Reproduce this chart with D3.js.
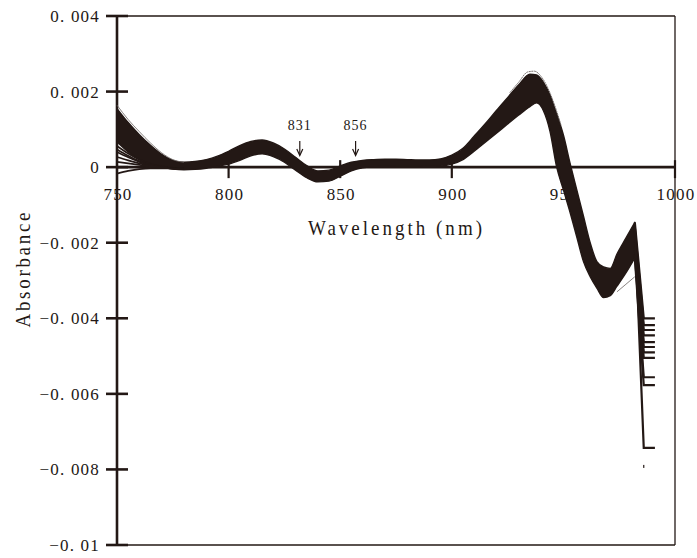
<!DOCTYPE html>
<html>
<head>
<meta charset="utf-8">
<script src="https://cdn.jsdelivr.net/npm/d3@7"></script>
<style>
  html, body { margin: 0; padding: 0; background: #fff; }
  svg { display: block; }
</style>
</head>
<body>
<svg id="chart" width="697" height="558"></svg>
<script>
// Second-derivative absorbance spectra, 750–1000 nm.
// The dense bundle of spectra is drawn as a band between its upper and lower edges.
const wavelength = [750, 755, 760, 765, 770, 775, 780, 785, 790, 795, 800, 805, 810, 815, 820,
  825, 830, 835, 840, 845, 850, 855, 860, 865, 870, 875, 880, 885, 890, 895, 900, 905, 910,
  915, 920, 925, 930, 935, 938, 941, 944, 947, 950, 953, 956, 959, 962, 965, 968, 971, 974,
  978, 982];

const bandUpper = [0.00155, 0.00118, 0.00086, 0.00058, 0.00034, 0.00018, 0.00013, 0.00015,
  0.00020, 0.00029, 0.00042, 0.00057, 0.00068, 0.00072, 0.00064, 0.00048, 0.00026, 0.00004,
  -0.00010, -0.00008, 0.00003, 0.00013, 0.00018, 0.00020, 0.00021, 0.00021, 0.00020, 0.00019,
  0.00019, 0.00022, 0.00032, 0.00050, 0.00082, 0.00115, 0.00150, 0.00184, 0.00218, 0.00246,
  0.00244, 0.00225, 0.00190, 0.00140, 0.00085, 0.00010, -0.00060, -0.00130, -0.00200,
  -0.00250, -0.00264, -0.00268, -0.00230, -0.00188, -0.00146];

const bandLower = [0.00067, 0.00040, 0.00020, 0.00008, 0.00000, -0.00005, -0.00007, -0.00006,
  -0.00003, 0.00002, 0.00008, 0.00018, 0.00030, 0.00035, 0.00028, 0.00013, -0.00008, -0.00028,
  -0.00039, -0.00037, -0.00024, -0.00010, -0.00002, 0.00001, 0.00002, 0.00003, 0.00003, 0.00003,
  0.00002, 0.00003, 0.00008, 0.00020, 0.00042, 0.00066, 0.00090, 0.00114, 0.00138, 0.00160,
  0.00170, 0.00150, 0.00095, 0.00000, -0.00060, -0.00120, -0.00185, -0.00250, -0.00290,
  -0.00320, -0.00345, -0.00340, -0.00315, -0.00280, -0.00240];

// Individual spectra that fan out at the short-wavelength end
const fanWavelength = [750, 755, 760, 765, 770, 775, 780];
const fanTop = [0.00164, 0.00126, 0.00094, 0.00064, 0.00038, 0.00020, 0.00013];
const fanA = [0.00056, 0.00036, 0.00020, 0.00009, 0.00002, -0.00002, -0.00003];
const fanB = [0.00047, 0.00030, 0.00016, 0.00007, 0.00001, -0.00003, -0.00004];
const fanC = [0.00040, 0.00026, 0.00014, 0.00006, 0.00000, -0.00003, -0.00004];
const fanD = [0.00027, 0.00018, 0.00010, 0.00004, 0.00000, -0.00003, -0.00004];
const fanE = [0.00014, 0.00010, 0.00006, 0.00002, -0.00001, -0.00004, -0.00005];
const fanF = [-0.00017, -0.00010, -0.00005, -0.00003, -0.00003, -0.00004, -0.00005];

// Outermost spectrum around the 935 nm maximum
const peakWavelength = [926, 930, 934, 937, 940, 943, 946, 949];
const peakOuter = [0.00197, 0.00225, 0.00252, 0.00254, 0.00240, 0.00210, 0.00165, 0.00110];

// A stray spectrum crossing the 970 nm trough
const strayWavelength = [974, 978, 982];
const strayTrace = [-0.00330, -0.00310, -0.00290];

// Ends of the spectra beyond 982 nm
const tailWavelength = [982, 986, 991];
const tailStart = [-0.00146, -0.00160, -0.00170, -0.00180, -0.00190, -0.00200, -0.00210,
  -0.00220, -0.00230, -0.00240, -0.00155];
const tailEnd = [-0.00400, -0.00418, -0.00431, -0.00445, -0.00463, -0.00476, -0.00490,
  -0.00505, -0.00556, -0.00577, -0.00743];
const tailStray = [986, -0.00792];

// Axis ticks
const xTicks = [750, 800, 850, 900, 950, 1000];
const xTickLabels = ["750", "800", "850", "900", "950", "1000"];
const yTicks = [0.004, 0.002, 0, -0.002, -0.004, -0.006, -0.008, -0.01];
const yTickLabels = ["0. 004", "0. 002", "0", "\u22120. 002", "\u22120. 004", "\u22120. 006", "\u22120. 008", "\u22120. 01"];

// Marked wavelengths
const markedWavelengths = [831, 856];
const markedLabels = ["831", "856"];

const ink = "#231815";
const serif = "'Liberation Serif', 'DejaVu Serif', serif";

const svg = d3.select("#chart");
const x = d3.scaleLinear().domain([750, 1000]).range([117, 675]);
const y = d3.scaleLinear().domain([-0.01, 0.004]).range([545, 16]);
const y0 = y(0);

// Frame
const frame = svg.append("g").attr("stroke", ink).attr("fill", "none");
frame.append("line").attr("x1", x(750)).attr("x2", x(1000)).attr("y1", y(0.004)).attr("y2", y(0.004)).attr("stroke-width", 1.3);
frame.append("line").attr("x1", x(1000)).attr("x2", x(1000)).attr("y1", y(0.004)).attr("y2", y(-0.01)).attr("stroke-width", 1.3);
frame.append("line").attr("x1", x(750)).attr("x2", x(1000)).attr("y1", y(-0.01)).attr("y2", y(-0.01)).attr("stroke-width", 1.3);
frame.append("line").attr("x1", x(750)).attr("x2", x(750)).attr("y1", y(0.004)).attr("y2", y(-0.01)).attr("stroke-width", 2.6);
frame.append("line").attr("x1", x(750)).attr("x2", x(1000)).attr("y1", y0).attr("y2", y0).attr("stroke-width", 2.6);

// Y ticks and labels
svg.append("g").selectAll("line").data(yTicks).join("line")
  .attr("x1", x(750) - 11).attr("x2", x(750) + 11)
  .attr("y1", d => y(d)).attr("y2", d => y(d))
  .attr("stroke", ink).attr("stroke-width", 2.6);
svg.append("g").selectAll("text").data(yTicks).join("text")
  .attr("x", x(750) - 17).attr("y", d => y(d) + 6)
  .attr("text-anchor", "end")
  .attr("font-family", serif).attr("font-size", 17)
  .attr("letter-spacing", 1.2)
  .attr("fill", ink)
  .text((d, i) => yTickLabels[i]);

// X ticks and labels
svg.append("g").selectAll("line").data(xTicks.slice(1)).join("line")
  .attr("x1", d => x(d)).attr("x2", d => x(d))
  .attr("y1", y0 - 7).attr("y2", y0 + 11)
  .attr("stroke", ink).attr("stroke-width", 2.2);
svg.append("g").selectAll("text").data(xTicks).join("text")
  .attr("x", d => x(d) + 1).attr("y", 200)
  .attr("text-anchor", "middle")
  .attr("font-family", serif).attr("font-size", 17)
  .attr("letter-spacing", 1.2)
  .attr("fill", ink)
  .text((d, i) => xTickLabels[i]);

// Axis titles (widely spaced, slightly tall lettering)
svg.append("g").attr("transform", "translate(395,235) scale(1,1.1)")
  .append("text")
  .attr("text-anchor", "middle")
  .attr("font-family", serif).attr("font-size", 19)
  .attr("textLength", 174).attr("lengthAdjust", "spacing")
  .attr("fill", ink)
  .text("Wavelength (nm)");
svg.append("g").attr("transform", "translate(30,270) rotate(-90) scale(1,1.1)")
  .append("text")
  .attr("text-anchor", "middle")
  .attr("font-family", serif).attr("font-size", 19)
  .attr("textLength", 115).attr("lengthAdjust", "spacing")
  .attr("fill", ink)
  .text("Absorbance");

// Marked wavelengths: label with a downward arrow
const marks = svg.append("g").selectAll("g").data(markedWavelengths).join("g")
  .attr("transform", d => `translate(${x(d) + 2},0)`);
marks.append("text")
  .attr("x", 0).attr("y", 130)
  .attr("text-anchor", "middle")
  .attr("font-family", serif).attr("font-size", 14)
  .attr("letter-spacing", 1)
  .attr("fill", ink)
  .text((d, i) => markedLabels[i]);
marks.append("line")
  .attr("x1", 0).attr("x2", 0).attr("y1", 141).attr("y2", 155)
  .attr("stroke", ink).attr("stroke-width", 1.2);
marks.append("path")
  .attr("d", "M-3,149 L0,155.5 L3,149")
  .attr("fill", "none").attr("stroke", ink).attr("stroke-width", 1.2);

// Spectra
const plot = svg.append("g");
const bandRows = wavelength.map((w, i) => ({ w, hi: bandUpper[i], lo: bandLower[i] }));
const band = d3.area()
  .x(d => x(d.w)).y0(d => y(d.lo)).y1(d => y(d.hi))
  .curve(d3.curveMonotoneX);
plot.append("path").datum(bandRows)
  .attr("d", band)
  .attr("fill", ink).attr("stroke", ink).attr("stroke-width", 1.4)
  .attr("stroke-linejoin", "round");

const line = d3.line().x(d => x(d[0])).y(d => y(d[1])).curve(d3.curveMonotoneX);
const zipWith = (ws, vs) => ws.map((w, i) => [w, vs[i]]);

[fanA, fanB, fanC, fanD, fanE, fanF].forEach(vals => {
  plot.append("path").datum(zipWith(fanWavelength, vals))
    .attr("d", line).attr("fill", "none")
    .attr("stroke", ink).attr("stroke-width", 1.7);
});
plot.append("path").datum(zipWith(fanWavelength, fanTop))
  .attr("d", line).attr("fill", "none")
  .attr("stroke", "#6a6260").attr("stroke-width", 0.8);
plot.append("path").datum(zipWith(peakWavelength, peakOuter))
  .attr("d", line).attr("fill", "none")
  .attr("stroke", "#6a6260").attr("stroke-width", 0.9).attr("stroke-dasharray", "2,0.6");
plot.append("path").datum(zipWith(strayWavelength, strayTrace))
  .attr("d", line).attr("fill", "none")
  .attr("stroke", "#6a6260").attr("stroke-width", 0.8);

const tailLine = d3.line().x(d => x(d[0])).y(d => y(d[1]));
tailStart.forEach((s, i) => {
  plot.append("path").datum(zipWith(tailWavelength, [s, tailEnd[i], tailEnd[i]]))
    .attr("d", tailLine).attr("fill", "none")
    .attr("stroke", ink).attr("stroke-width", 2.2);
});
plot.append("rect")
  .attr("x", x(tailStray[0]) - 0.6).attr("y", y(tailStray[1]) - 1.5)
  .attr("width", 1.2).attr("height", 3)
  .attr("fill", ink);
</script>
</body>
</html>
